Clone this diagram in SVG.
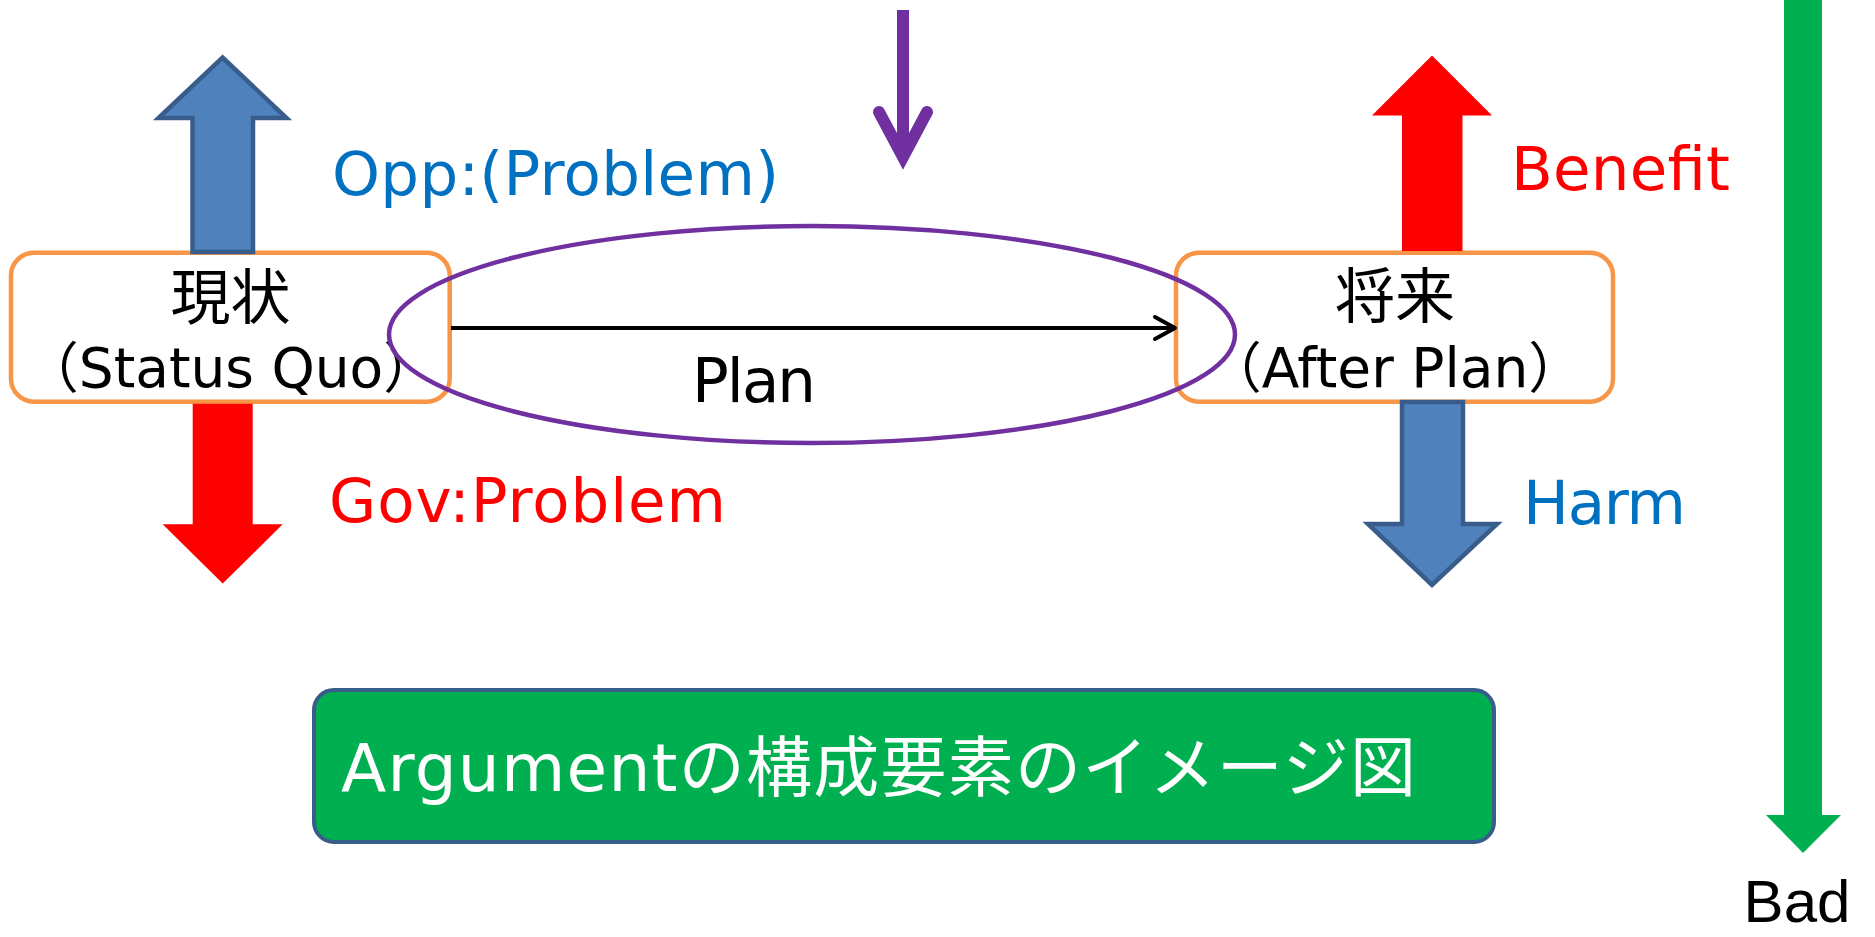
<svg xmlns="http://www.w3.org/2000/svg" width="1875" height="937" viewBox="0 0 1875 937">
<style>
.lbl{font-family:"DejaVu Sans","Noto Sans CJK JP",sans-serif;font-size:61px}
.node{fill:#FFFFFF;stroke:#F79646;stroke-width:4.5}
.jp{font-family:"Noto Sans CJK JP",sans-serif;font-size:60px;fill:#000;text-anchor:middle}
.sub{font-family:"DejaVu Sans","Noto Sans CJK JP",sans-serif;font-size:55px;fill:#000;text-anchor:middle}
.blue{fill:#4F81BD;stroke:#385D8A;stroke-width:4.5;stroke-linejoin:miter}
.red{fill:#FF0000}
</style>
<rect width="1875" height="937" fill="#FFFFFF"/>
<g id="status-quo">
<rect class="node" x="11" y="252.7" width="438.7" height="149" rx="23"/>
<text class="jp" x="230.5" y="319">現状</text>
<text class="sub" x="231" y="387">（Status Quo）</text>
</g>
<g id="after-plan">
<rect class="node" x="1176" y="252.7" width="437" height="149" rx="23"/>
<text class="jp" x="1395" y="318">将来</text>
<text class="sub" x="1395" y="387">（After Plan）</text>
</g>
<g id="plan-ellipse">
<ellipse cx="812" cy="334.5" rx="423" ry="108.5" fill="none" stroke="#7030A0" stroke-width="4.5"/>
</g>
<g id="connectors">
<line x1="451" y1="328" x2="1173" y2="328" stroke="#000" stroke-width="4"/>
<polyline points="1155,317 1175,328 1155,339" fill="none" stroke="#000" stroke-width="4" stroke-linecap="round" stroke-linejoin="round"/>
<line x1="903" y1="10" x2="903" y2="150" stroke="#7030A0" stroke-width="12"/>
<polyline points="879,112 903,157 927,112" fill="none" stroke="#7030A0" stroke-width="12" stroke-linecap="round" stroke-linejoin="miter"/>
</g>
<g id="opp-problem-arrow">
<polygon class="blue" points="222.5,57.5 286.5,118 253,118 253,252 192.5,252 192.5,118 158.5,118"/>
</g>
<g id="gov-problem-arrow">
<polygon class="red" points="192.7,403.7 252.7,403.7 252.7,524.3 282.7,524.3 222.7,583.6 162.7,524.3 192.7,524.3"/>
</g>
<g id="benefit-arrow">
<polygon class="red" points="1432,55.5 1492,115.6 1462.5,115.6 1462.5,251 1402,251 1402,115.6 1372,115.6"/>
</g>
<g id="harm-arrow">
<polygon class="blue" points="1402,402 1463,402 1463,524 1497,524 1432,585 1368,524 1402,524"/>
</g>
<g id="bad-arrow">
<polygon fill="#00B050" points="1784,-5 1822,-5 1822,815 1841,815 1803,853 1766,815 1784,815"/>
<text x="1797" y="922" font-family="Liberation Sans, sans-serif" font-size="60" text-anchor="middle" fill="#000">Bad</text>
</g>
<g id="labels">
<text class="lbl" x="332" y="195" fill="#0070C0" textLength="447">Opp:(Problem)</text>
<text class="lbl" x="329" y="522.4" fill="#FF0000" textLength="397">Gov:Problem</text>
<text class="lbl" x="1511" y="190" fill="#FF0000" textLength="219">Benefit</text>
<text class="lbl" x="1523" y="523.5" fill="#0070C0" textLength="163">Harm</text>
<text class="lbl" x="692" y="401.7" fill="#000" textLength="124">Plan</text>
</g>
<g id="title">
<rect x="314" y="690" width="1180" height="152" rx="20" fill="#00B050" stroke="#385D8A" stroke-width="4"/>
<text x="341" y="790.7" font-family="DejaVu Sans, Noto Sans CJK JP, sans-serif" font-size="66" fill="#FFFFFF" textLength="1075">Argumentの構成要素のイメージ図</text>
</g>
</svg>
